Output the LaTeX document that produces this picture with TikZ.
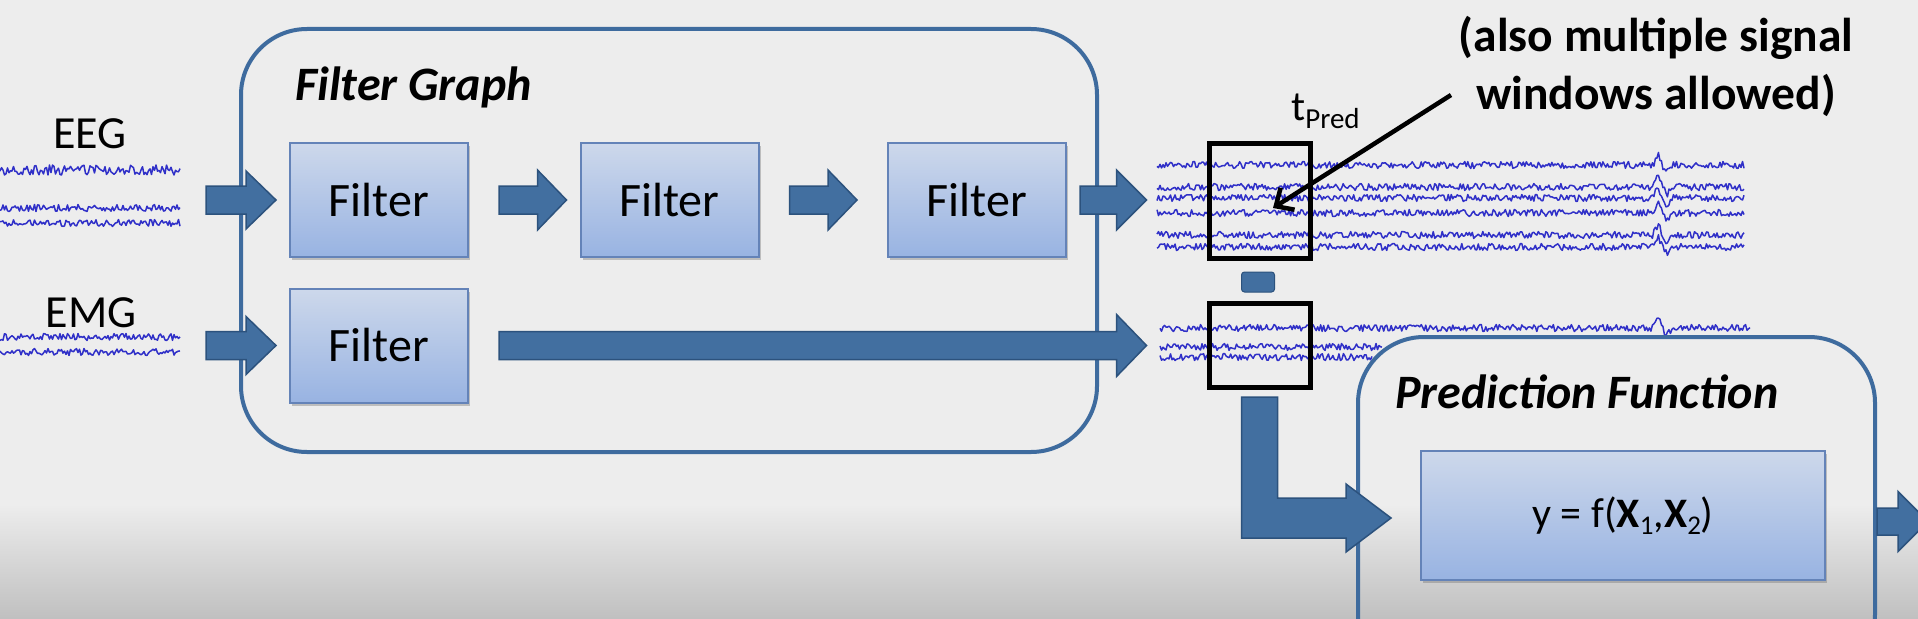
\documentclass[tikz,border=0pt]{standalone}
\usepackage{fontspec}
\setmainfont{Carlito}
\usetikzlibrary{calc,shadows,arrows.meta}
\definecolor{bgA}{HTML}{EDEDED}
\definecolor{bgB}{HTML}{DCDCDC}
\definecolor{bgC}{HTML}{C0C0C0}
\definecolor{frameblue}{RGB}{62,107,158}
\definecolor{arrowfill}{RGB}{66,111,160}
\definecolor{arrowdraw}{RGB}{44,82,125}
\definecolor{boxtop}{HTML}{CDD8EB}
\definecolor{boxbot}{HTML}{98B3E2}
\definecolor{boxline}{HTML}{6483B8}
\definecolor{sigblue}{RGB}{48,48,200}
\newcommand{\setfs}[1]{\fontsize{#1}{#1}\selectfont}
\newcommand{\sigtrace}[5]{\draw[sig] plot[domain=#1:#2,samples=#3] (\x,{#4+#5*rand});}
\newcommand{\sigspike}[4]{\draw[sig] plot[domain=#1:#2,samples=#3] (\x,{#4+3.5*rand-11*max(0,1-abs(\x-1658)/5)+7*max(0,1-abs(\x-1667)/5)});}
% block arrow: start coord, tip coord, shaft half, head half, head length
\newcommand{\blockarrow}[5]{%
  \path[barrow] let \p1=(#1), \p2=(#2) in
    (\x1,{\y1+#3pt}) -- ({\x2-#5pt},{\y1+#3pt}) -- ({\x2-#5pt},{\y1+#4pt}) --
    (\x2,\y1) -- ({\x2-#5pt},{\y1-#4pt}) -- ({\x2-#5pt},{\y1-#3pt}) --
    (\x1,{\y1-#3pt}) -- cycle;}
\begin{document}
\begin{tikzpicture}[x=1pt,y=-1pt,
  sig/.style={draw=sigblue,line width=1.5pt,line join=round},
  barrow/.style={fill=arrowfill,draw=arrowdraw,line width=1.5pt,line join=miter},
  groupbox/.style={draw=frameblue,line width=4pt,rounded corners=66pt,inner sep=0pt},
  filterbox/.style={draw=boxline,line width=2pt,top color=boxtop,bottom color=boxbot,
    minimum width=178pt,minimum height=114pt,inner sep=0pt,font=\setfs{48},
    drop shadow={shadow xshift=2pt,shadow yshift=-3pt,opacity=0.35,fill=black!60}},
  window/.style={draw=black,line width=5pt,minimum width=101pt,inner sep=0pt},
  signame/.style={font=\setfs{46},anchor=base,inner sep=0pt},
  grouptitle/.style={font=\setfs{48}\bfseries\itshape,anchor=base west,inner sep=0pt},
  note/.style={font=\setfs{47.5}\bfseries,inner sep=0pt,anchor=base}]
\useasboundingbox (0,0) rectangle (1918,618);
\clip (0,0) rectangle (1918,618);
% background
\fill[bgA] (0,0) rectangle (1918,505);
\fill[top color=bgA,middle color=bgB,bottom color=bgC] (0,504) rectangle (1918,618);
\pgfmathsetseed{7}
% left signals
\sigtrace{0}{180}{121}{170}{5}
\sigtrace{0}{180}{121}{208}{3.5}
\sigtrace{0}{180}{121}{223}{3.5}
\sigtrace{0}{180}{121}{337}{3.5}
\sigtrace{0}{180}{121}{352}{3.5}
% right signals
\sigspike{1157}{1744}{392}{165}
\sigspike{1157}{1744}{392}{187}
\sigspike{1157}{1744}{392}{198}
\sigspike{1157}{1744}{392}{213}
\sigspike{1157}{1744}{392}{235}
\sigspike{1157}{1744}{392}{247}
\sigspike{1160}{1750}{394}{328}
\sigtrace{1160}{1382}{149}{347}{3.5}
\sigtrace{1160}{1372}{142}{357}{3.5}
% labels
\node[signame] (eeg) at (90,148) {EEG};
\node[signame] (emg) at (91,327) {EMG};
% filter graph
\node[groupbox,minimum width=856pt,minimum height=423pt] (FG) at (669,240.5) {};
\node[grouptitle] (FGt) at (295,100) {Filter Graph};
\node[filterbox] (F1) at (379,200) {Filter};
\node[filterbox] (F2) at (669.5,200) {Filter};
\node[filterbox] (F3) at (977,200) {Filter};
\node[filterbox] (F4) at (379,345.5) {Filter};
% arrows of the filter graph
\blockarrow{$(F1.west)+(-83,0)$}{$(F1.west)+(-13,0)$}{14}{29}{30}
\blockarrow{$(F4.west)+(-83,0)$}{$(F4.west)+(-13,0)$}{14}{29}{30}
\blockarrow{$(F1.east)+(30,0)$}{$(F2.west)+(-13,0)$}{14}{30}{29}
\blockarrow{$(F2.east)+(30,0)$}{$(F3.west)+(-30,0)$}{14}{30}{29}
% windows
\node[window,minimum height=115pt] (W1) at (1259.5,200.5) {};
\node[window,minimum height=84pt] (W2) at (1259.5,345.5) {};
\node[fill=arrowfill,draw=arrowdraw,line width=1pt,rounded corners=3pt,minimum width=33pt,minimum height=20pt,inner sep=0pt] (gap) at (1258,282) {};
\blockarrow{$(F3.east)+(13,0)$}{$(W1.west |- F3.east)+(-60,0)$}{14}{30}{30}
\blockarrow{$(F4.east)+(30,0)$}{$(W2.west |- F4.east)+(-60,0)$}{14}{31}{30}
% prediction function
\node[groupbox,minimum width=517pt,minimum height=343pt] (PF) at (1616.5,508.5) {};
\node[grouptitle] (PFt) at (1395,408) {Prediction Function};
\node[filterbox,minimum width=404pt,minimum height=129pt,font=\setfs{42}] (PI) at (1623,515.5)
  {y = f(\textbf{X}\raisebox{-7pt}{\setfs{27}1},\textbf{X}\raisebox{-7pt}{\setfs{27}2})};
% L-shaped arrow from the lower window to the prediction function
\coordinate (Ltop) at ($(W2.south)+(0,7)$);
\coordinate (Ltip) at ($(PI.west)+(-29,2.5)$);
\path[barrow] let \p1=(Ltop), \p2=(Ltip) in
  ({\x1-18pt},\y1) -- ({\x1+18pt},\y1) -- ({\x1+18pt},{\y2+20pt}) -- ({\x2-45pt},{\y2+20pt}) --
  ({\x2-45pt},{\y2+34pt}) -- (\x2,\y2) -- ({\x2-45pt},{\y2-34pt}) -- ({\x2-45pt},{\y2-20pt}) --
  ({\x1-18pt},{\y2-20pt}) -- cycle;
% output arrow
\blockarrow{$(PF.east |- PI.east)+(0,6)$}{$(PF.east |- PI.east)+(51,6)$}{13.5}{30}{30}
% t_Pred
\node[anchor=base west,inner sep=0pt,font=\setfs{42}] (tpred) at (1291,120) {t\raisebox{-8pt}{\setfs{29}Pred}};
% annotation
\node[note] (n1) at (1656,52) {(also multiple signal};
\node[note] (n2) at (1656,109) {windows allowed)};
\coordinate (annS) at (1451,95);
\coordinate (annT) at (1273,208);
\draw[line width=4.5pt,-{Straight Barb[length=14pt,width=26pt,line width=4.5pt]}] (annS) -- (annT);
\end{tikzpicture}
\end{document}
